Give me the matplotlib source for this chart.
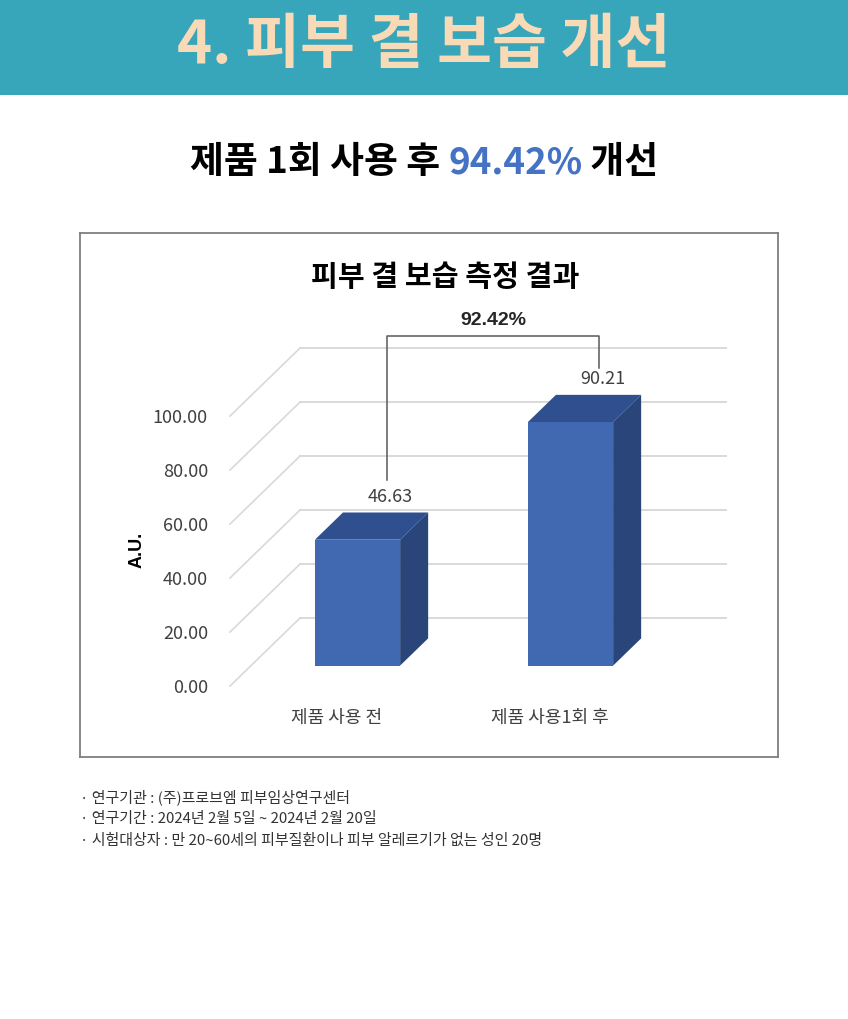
"""Skin texture moisture result card: header band, headline, pseudo-3D bar chart, notes."""

import matplotlib

matplotlib.use("Agg")
import matplotlib.pyplot as plt
from matplotlib.patches import Polygon, Rectangle

plt.rcParams["font.family"] = ["Noto Sans CJK KR", "DejaVu Sans"]

HEADER = "4. 피부 결 보습 개선"
HEADLINE = ["제품 1회 사용 후 ", "94.42%", " 개선"]
CHART_TITLE = "피부 결 보습 측정 결과"
CATEGORIES = ["제품 사용 전", "제품 사용1회 후"]
VALUES = [46.63, 90.21]
CHANGE_LABEL = "92.42%"
Y_TICKS = [0, 20, 40, 60, 80, 100]
Y_LABEL = "A.U."
NOTES = [
    "· 연구기관 : (주)프로브엠 피부임상연구센터",
    "· 연구기간 : 2024년 2월 5일 ~ 2024년 2월 20일",
    "· 시험대상자 : 만 20~60세의 피부질환이나 피부 알레르기가 없는 성인 20명",
]

BAND = "#37a6bb"
PEACH = "#f8dab6"
BLUE_TXT = "#4472c4"
FRONT = "#4169b2"
TOP = "#2f4f8e"
SIDE = "#29457a"
GRID = "#d9d9d9"
TXT = "#404040"

# projection of the "depth" axis onto the 2D axes (x units, value units)
DX, DY = 0.329, 25.2
BAR_W = 0.4
D0, D1 = 0.3, 0.7

W, H, DPI = 848, 1019, 100
fig = plt.figure(figsize=(W / DPI, H / DPI), dpi=DPI)

# header band
fig.patches.append(Rectangle((0, 1 - 95 / H), 1, 95 / H, transform=fig.transFigure,
                             facecolor=BAND, edgecolor="none", zorder=0))
fig.text(0.5, 1 - 46 / H, HEADER, ha="center", va="center", color=PEACH,
         fontsize=43, fontweight="bold")

# headline with coloured percentage
renderer = fig.canvas.get_renderer()
colors = ["black", BLUE_TXT, "black"]
parts = [fig.text(0, 1 - 163 / H, s, ha="left", va="center", fontsize=26.5,
                  fontweight="bold", color=c) for s, c in zip(HEADLINE, colors)]
widths = [p.get_window_extent(renderer).width / W for p in parts]
x = 0.5 - sum(widths) / 2
for p, w in zip(parts, widths):
    p.set_x(x)
    x += w

# chart box = axes frame
ax = fig.add_axes([80 / W, 1 - 757 / H, 698 / W, 524 / H])
ax.set_xlim(-1.2042, 2.0728)
ax.set_ylim(-26.3, 167.8)
for s in ax.spines.values():
    s.set_color("#7f7f7f")
    s.set_linewidth(1.3)
ax.set_xticks([])
ax.set_yticks(Y_TICKS)
ax.set_yticklabels([f"{t:.2f}" for t in Y_TICKS])
ax.tick_params(axis="y", length=0, pad=-128 * 72 / DPI, labelsize=13, labelcolor=TXT)

x_left = -0.5
x_right = len(CATEGORIES) - 0.5
for t in Y_TICKS:
    ax.plot([x_left, x_left + DX], [t, t + DY], color=GRID, lw=1.2, zorder=1)
    ax.plot([x_left + DX, x_right + DX], [t + DY, t + DY], color=GRID, lw=1.4, zorder=1)

for i, v in enumerate(VALUES):
    l0 = i - BAR_W / 2 + D0 * DX
    r0 = i + BAR_W / 2 + D0 * DX
    b0 = D0 * DY
    l1 = i - BAR_W / 2 + D1 * DX
    r1 = i + BAR_W / 2 + D1 * DX
    b1 = D1 * DY
    ax.add_patch(Polygon([(l0, b0), (r0, b0), (r0, v + b0), (l0, v + b0)],
                         facecolor=FRONT, edgecolor="none", zorder=3))
    ax.add_patch(Polygon([(l0, v + b0), (r0, v + b0), (r1, v + b1), (l1, v + b1)],
                         facecolor=TOP, edgecolor="none", zorder=3))
    ax.add_patch(Polygon([(r0, b0), (r1, b1), (r1, v + b1), (r0, v + b0)],
                         facecolor=SIDE, edgecolor="none", zorder=3))
    ax.text(i + 0.25, v + 23.5, f"{v:.2f}", ha="center", va="center", fontsize=13,
            color=TXT, zorder=4)
    ax.text(i, -11.8, CATEGORIES[i], ha="center", va="center", fontsize=13, color=TXT)

# change bracket
bx = [0.237, 1.232]
ytop = 129.8
ax.plot([bx[0], bx[0], bx[1], bx[1]],
        [VALUES[0] + 29.5, ytop, ytop, VALUES[1] + 27.5], color="#595959", lw=1.1, zorder=4)
ax.text(sum(bx) / 2, 135.3, CHANGE_LABEL, ha="center", va="center", fontsize=14,
        fontweight="bold", family=["Liberation Sans", "DejaVu Sans"], color="#262626")

ax.text(0.509, 151.5, CHART_TITLE, ha="center", va="center", fontsize=21,
        fontweight="bold", color="black")
ax.text(-0.937, 50.4, Y_LABEL, ha="center", va="center", rotation=90, fontsize=13,
        fontweight="bold", family=["Liberation Sans", "DejaVu Sans"], color="black")

for k, note in enumerate(NOTES):
    fig.text(80 / W, 1 - (797 + 22 * k) / H, note, ha="left", va="center",
             fontsize=10.8, color="#333333")

fig.savefig("out.png", dpi=DPI, facecolor="white")
